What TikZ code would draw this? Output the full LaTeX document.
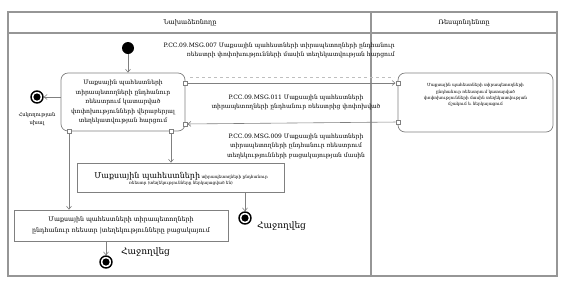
\documentclass[tikz,border=0pt]{standalone}
\usepackage{fontspec}
\setmainfont{DejaVu Serif}
\usetikzlibrary{arrows.meta}
\definecolor{lgray}{RGB}{128,128,128}
\definecolor{fgray}{RGB}{150,150,150}
\begin{document}
\begin{tikzpicture}[x=1pt,y=-1pt,
  frame/.style={draw=fgray, line width=1.2pt},
  line/.style={draw=lgray, line width=0.6pt},
  arr/.style={line, -{Straight Barb[length=3pt,width=5pt]}},
  port/.style={draw=lgray, fill=white, minimum size=4.5pt, inner sep=0pt, line width=0.5pt},
  act/.style={draw=lgray, rounded corners=7pt, line width=0.7pt, align=center, inner sep=0pt},
  box/.style={draw=lgray, line width=0.7pt, align=center, inner sep=0pt},
  txt/.style={font=\fontsize{6}{9.5}\selectfont, align=center, inner sep=0pt},
  small/.style={font=\fontsize{4.2}{6.2}\selectfont, align=center, inner sep=0pt},
  initial/.style={circle, fill=black, minimum size=12pt, inner sep=0pt},
  final/.style={circle, draw=black, line width=1.4pt, fill=white, minimum size=12pt, inner sep=0pt,
    path picture={\fill[black] (path picture bounding box.center) circle (3.6pt);}},
  big/.style={font=\fontsize{9}{11}\selectfont, inner sep=0pt},
]
\useasboundingbox (0,0) rectangle (567,282);
% frame
\draw[frame] (8,12) rectangle (557,276);
\draw[frame] (8,33) -- (557,33);
\draw[frame] (371,12) -- (371,276);
\node[txt, font=\fontsize{6.5}{8}\selectfont] (h1) at (190,22.5) {Նախաձեռնողը};
\node[txt, font=\fontsize{6.5}{8}\selectfont] (h2) at (464,22.5) {Ռեսպոնդենտը};

% nodes
\node[initial] (start) at (128,48) {};
\node[act, minimum width=124pt, minimum height=58pt, txt] (main) at (123,102)
  {Մաքսային պահեստների\\ տիրապետողների ընդհանուր\\ ռեեստրում կատարված\\ փոփոխությունների վերաբերյալ\\ տեղեկատվության հարցում};
\node[act, minimum width=155pt, minimum height=59pt] (resp) at (475.5,102.5) {};
\node[small] (resptxt) at (475.5,95) {Մաքսային պահեստների տիրապետողների\\ ընդհանուր ռեեստրում կատարված\\ փոփոխությունների մասին տեղեկատվության\\ մշակում և ներկայացում};
\node[box, minimum width=207pt, minimum height=29pt] (mid) at (181,177.5) {};
\node[small, anchor=center] (midtxt) at (181,179)
  {{\fontsize{8}{9}\selectfont Մաքսային պահեստների} տիրապետողների ընդհանուր\\ ռեեստր (տեղեկությունները ներկայացված են)};
\node[box, minimum width=214pt, minimum height=31pt, font=\fontsize{6.3}{11.5}\selectfont] (bot) at (121,225.5)
  {Մաքսային պահեստների տիրապետողների\\ ընդհանուր ռեեստր |տեղեկությունները բացակայում};

\node[final] (finL) at (37,97) {};
\node[txt, font=\fontsize{5.2}{8.5}\selectfont] (finLtxt) at (37,119) {Հսկողության\\ սխալ};
\node[final] (finM) at (245,218) {};
\node[big, anchor=west] (finMtxt) at (257,226) {Հաջողվեց};
\node[final] (finB) at (106,262) {};
\node[big, anchor=west] (finBtxt) at (121,252) {Հաջողվեց};

% ports
\node[port] (p1) at (185,83) {};
\node[port] (p2) at (185,124) {};
\node[port] (p3) at (69,131) {};
\node[port] (p4) at (171,131) {};
\node[port] (p5) at (398,83) {};
\node[port] (p6) at (398,122) {};

% ghost dashed lines
\draw[draw=lgray!50, dashed, line width=0.4pt] (190,77) -- (394,77);

% connectors
\draw[arr] (start) -- (start |- main.north);
\draw[arr] (main.west |- finL) -- (finL);
\draw[arr] (p1) -- (p5);
\draw[arr] (p6) -- (p2);
\draw[arr] (p4) -- (p4 |- mid.north);
\draw[arr] (p3) -- (p3 |- bot.north);
\draw[arr] (finM |- mid.south) -- (finM);
\draw[arr] (finB |- bot.south) -- (finB);

% message labels
\node[txt, align=right, anchor=east] (m7) at (395,50.5)
  {P.CC.09.MSG.007 Մաքսային պահեստների տիրապետողների ընդհանուր\\ ռեեստրի փոփոխությունների մասին տեղեկատվության հարցում};
\node[txt] (m11) at (296,102.5)
  {P.CC.09.MSG.011 Մաքսային պահեստների\\ տիրապետողների ընդհանուր ռեեստրից փոփոխված};
\node[txt] (m9) at (296,146)
  {P.CC.09.MSG.009 Մաքսային պահեստների\\ տիրապետողների ընդհանուր ռեեստրում\\ տեղեկությունների բացակայության մասին};
\end{tikzpicture}
\end{document}
